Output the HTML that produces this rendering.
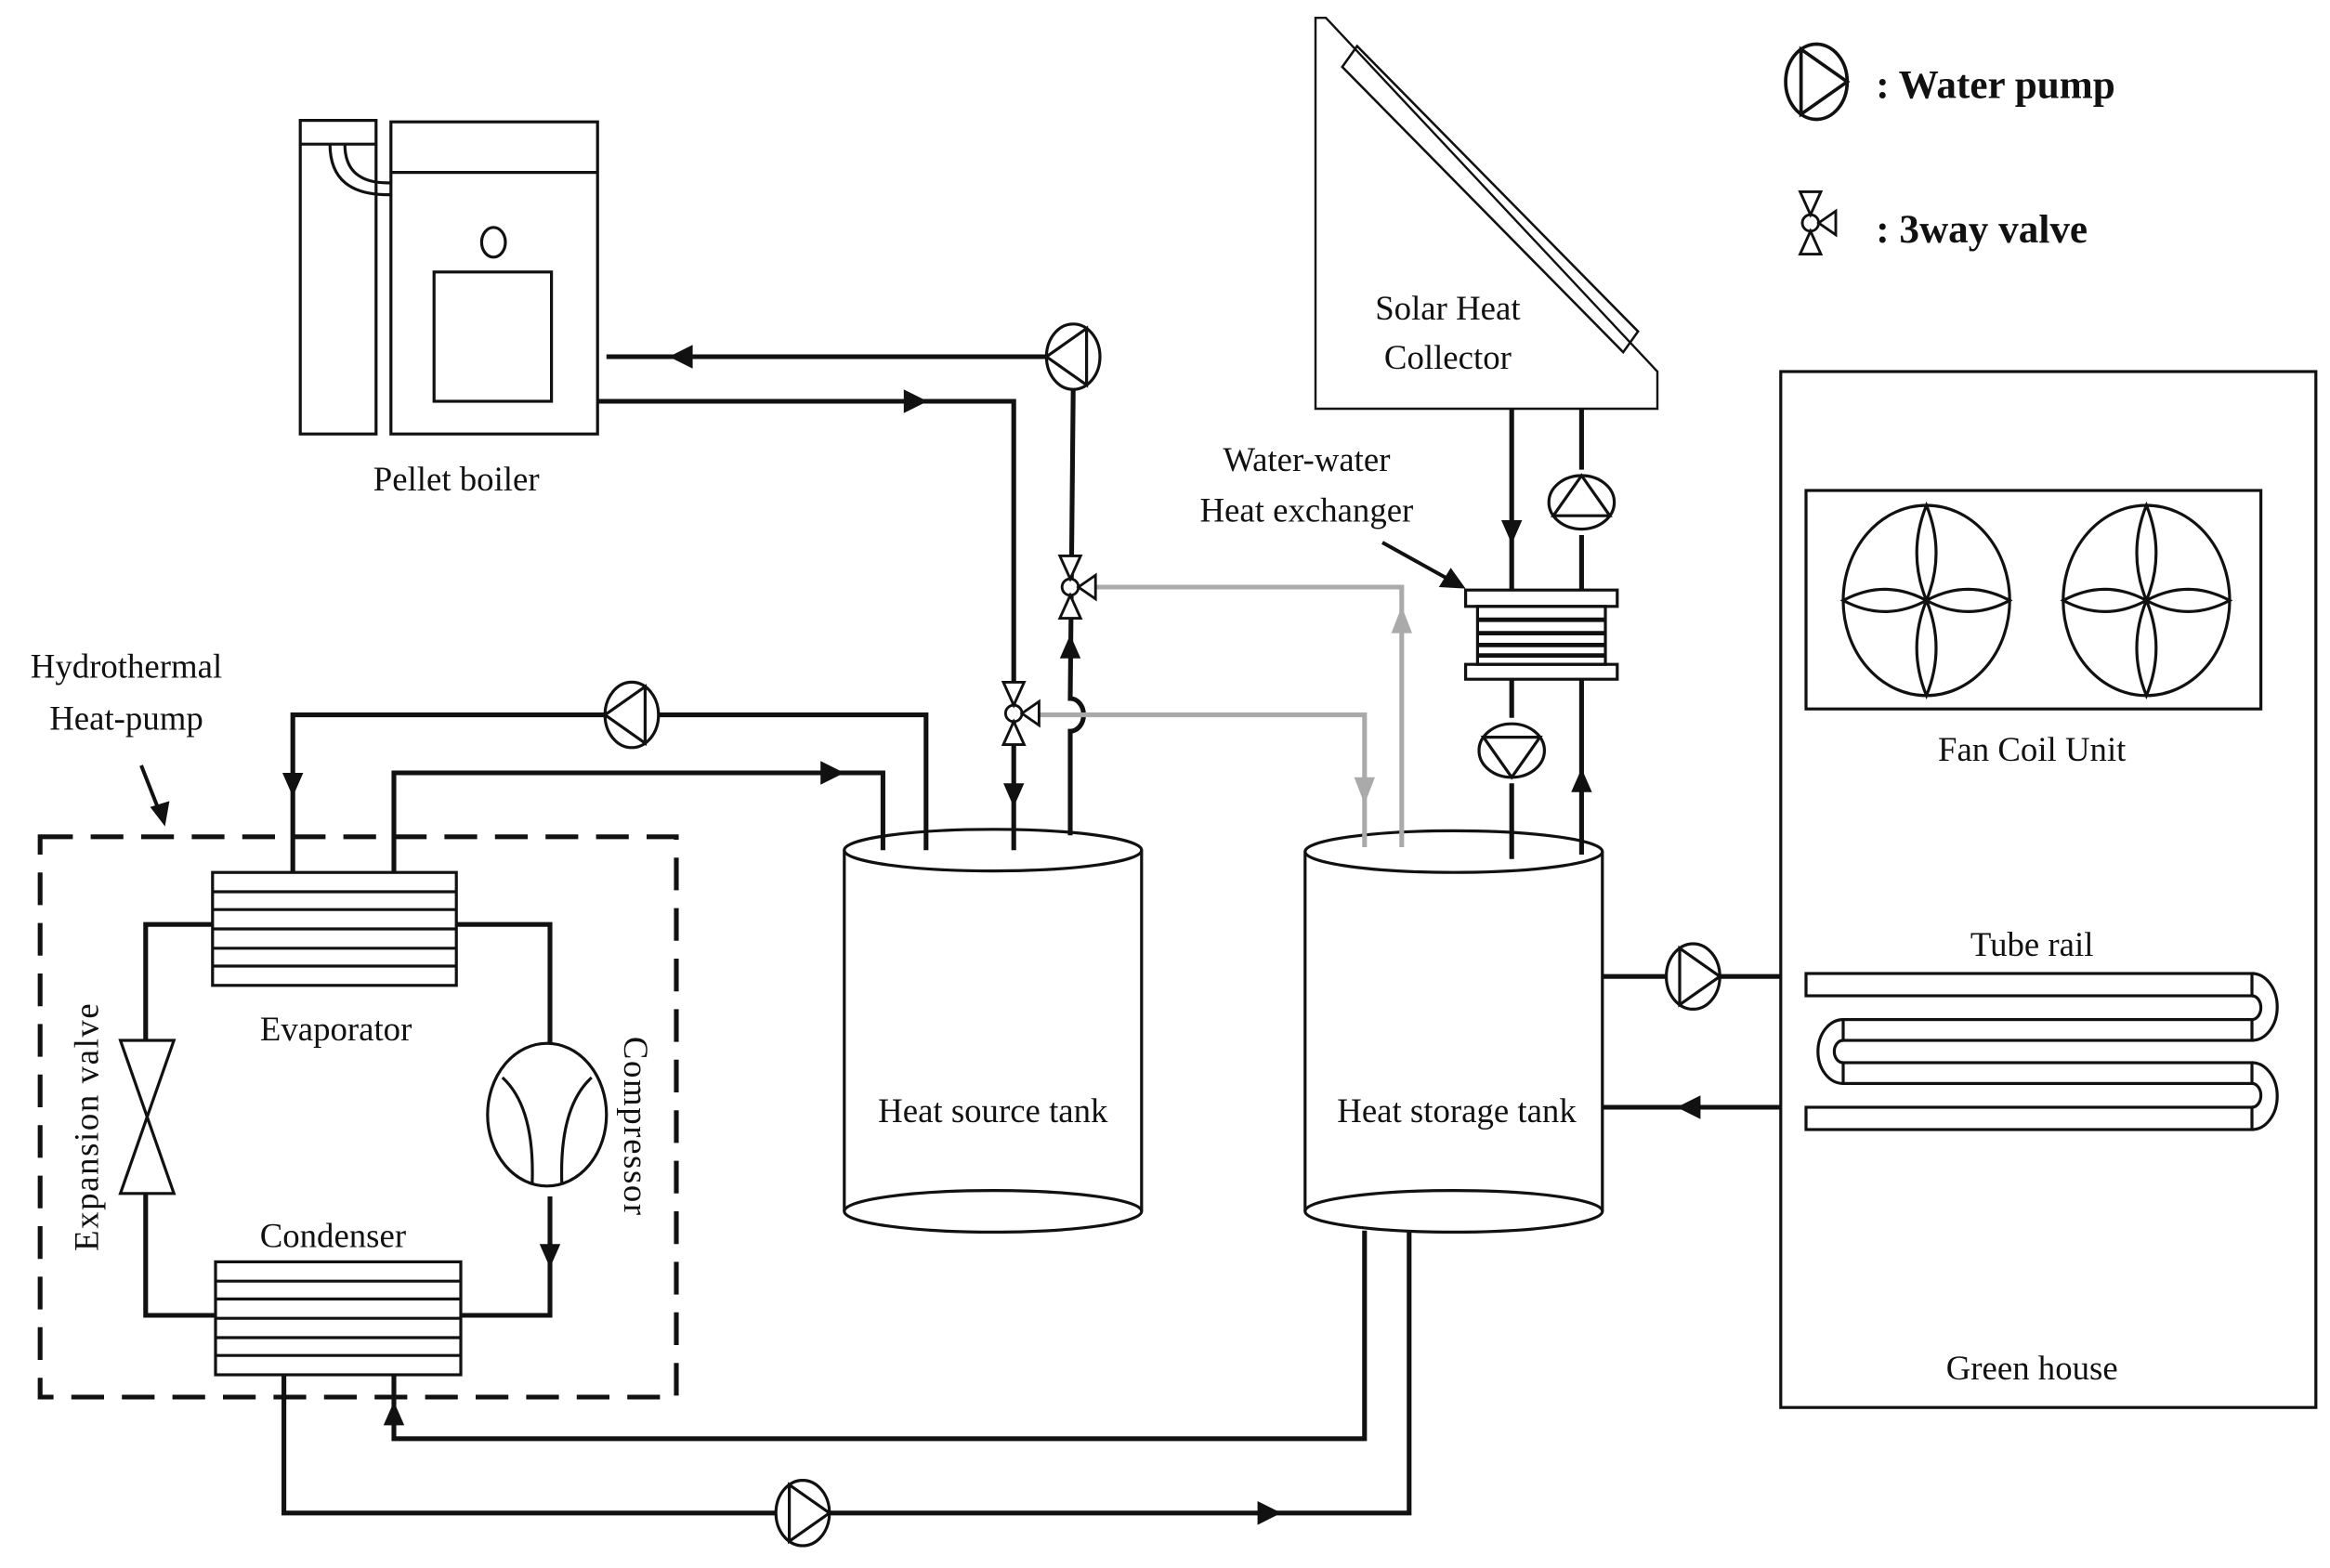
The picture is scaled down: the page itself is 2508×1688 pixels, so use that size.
<!DOCTYPE html>
<html><head><meta charset="utf-8"><style>
html,body{margin:0;padding:0;background:#fff}
svg{display:block}
text{font-family:"Liberation Serif",serif;fill:#111}
</style></head><body>
<svg width="2508" height="1688" viewBox="0 0 1567.5 1055" xmlns="http://www.w3.org/2000/svg">
<defs>
<g id="pump"><ellipse cx="0" cy="0" rx="18" ry="22" fill="#fff" stroke="#111" stroke-width="2"/><path d="M18,0 L-9,-19 L-9,19 Z" fill="none" stroke="#111" stroke-width="2"/></g>
<g id="valve"><circle cx="0" cy="0" r="5.5" fill="#fff" stroke="#111" stroke-width="1.8"/><path d="M-7,-21 L7,-21 L0,-5.5 Z M-7,21 L7,21 L0,5.5 Z M5.5,0 L17,-8 L17,8 Z" fill="#fff" stroke="#111" stroke-width="1.8"/></g>
<g id="fan" fill="none" stroke="#111" stroke-width="2">
<ellipse cx="0" cy="0" rx="56" ry="64"/>
<path d="M0,0 Q13,-32 0,-64 Q-13,-32 0,0 Q13,32 0,64 Q-13,32 0,0 Q28,-15 56,0 Q28,15 0,0 Q-28,-15 -56,0 Q-28,15 0,0"/>
</g>
</defs>
<g fill="none" stroke="#111" stroke-width="2">
<rect x="202" y="81" width="51" height="211"/>
<line x1="202" y1="97" x2="253" y2="97"/>
<rect x="263" y="82" width="139" height="210"/>
<line x1="263" y1="116" x2="402" y2="116"/>
<path d="M222,97 Q222,132 263,131 M232,97 Q232,124 263,123" />
<ellipse cx="332" cy="163" rx="8" ry="10"/>
<rect x="292" y="183" width="79" height="87"/>
<path d="M885,12 L885,275 L1115,275 L1115,250 L892,12 Z" stroke-width="1.5"/>
<path d="M903,45 L913,31 L1102,223 L1092,237 Z" stroke-width="1.6"/>
<rect x="986" y="397" width="102" height="11"/>
<rect x="994" y="408" width="86" height="39"/>
<line x1="994" y1="417" x2="1080" y2="417" stroke-width="3"/>
<line x1="994" y1="426" x2="1080" y2="426" stroke-width="3"/>
<line x1="994" y1="434" x2="1080" y2="434" stroke-width="3"/>
<line x1="994" y1="441" x2="1080" y2="441" stroke-width="3"/>
<rect x="986" y="447" width="102" height="10"/>
<path d="M568,572 L568,815 M768,572 L768,815"/>
<ellipse cx="668" cy="572" rx="100" ry="14"/>
<ellipse cx="668" cy="815" rx="100" ry="14"/>
<path d="M878,573 L878,815 M1078,573 L1078,815"/>
<ellipse cx="978" cy="573" rx="100" ry="14"/>
<ellipse cx="978" cy="815" rx="100" ry="14"/>
<rect x="1198" y="250" width="360" height="697"/>
<rect x="1215" y="330" width="306" height="147"/>
<rect x="1215" y="655" width="300" height="15"/>
<rect x="1240" y="686" width="275" height="14"/>
<rect x="1240" y="715" width="275" height="14"/>
<rect x="1215" y="745" width="300" height="15"/>
<path d="M1515,655 A17,22.5 0 0 1 1515,700 M1515,670 A6,8 0 0 1 1515,686"/>
<path d="M1515,715 A17,22.5 0 0 1 1515,760 M1515,729 A6,8 0 0 1 1515,745"/>
<path d="M1240,686 A17,21.5 0 0 0 1240,729 M1240,700 A6,7.5 0 0 0 1240,715"/>
<rect x="27" y="563" width="428" height="377" stroke-width="3.2" stroke-dasharray="22,12"/>
<rect x="143" y="587" width="164" height="76"/>
<rect x="145" y="849" width="165" height="76"/>
<ellipse cx="368" cy="750" rx="40" ry="48"/>
<path d="M338,725 Q360,745 358,797 M398,725 Q376,745 378,797"/>
<path d="M81,700 L117,700 L81,803 L117,803 Z"/>
</g>
<use href="#fan" transform="translate(1296,404)"/>
<use href="#fan" transform="translate(1444,404)"/>
<g stroke="#111" stroke-width="2">
<line x1="143" y1="600" x2="307" y2="600"/><line x1="143" y1="612" x2="307" y2="612"/><line x1="143" y1="625" x2="307" y2="625"/><line x1="143" y1="638" x2="307" y2="638"/><line x1="143" y1="650" x2="307" y2="650"/>
<line x1="145" y1="862" x2="310" y2="862"/><line x1="145" y1="874" x2="310" y2="874"/><line x1="145" y1="887" x2="310" y2="887"/><line x1="145" y1="900" x2="310" y2="900"/><line x1="145" y1="912" x2="310" y2="912"/>
</g>
<g fill="none" stroke="#111" stroke-width="3.2">
<path d="M408,240 L704,240"/>
<path d="M402,270 L682,270 L682,572"/>
<path d="M722,262 L720,470 A9,11 0 0 1 720,492 L720,562"/>
<path d="M1017,275 L1017,397 M1064,275 L1064,316 M1064,360 L1064,397"/>
<path d="M1017,457 L1017,483 M1017,527 L1017,578 M1064,457 L1064,575"/>
<path d="M1078,657 L1121,657 M1157,657 L1198,657 M1198,745 L1078,745"/>
<path d="M197,587 L197,481 L407,481 M443,481 L623,481 L623,572"/>
<path d="M265,587 L265,520 L594,520 L594,572"/>
<path d="M143,622 L98,622 L98,700 M98,803 L98,885 L145,885"/>
<path d="M307,622 L370,622 L370,702 M370,805 L370,885 L310,885"/>
<path d="M191,925 L191,1018 L522,1018 M558,1018 L948,1018 L948,829"/>
<path d="M265,925 L265,968 L918,968 L918,828"/>
<path d="M95,515 L108,548" stroke-width="2.5"/>
<path d="M930,365 L975,390" stroke-width="2.5"/>
</g>
<g fill="none" stroke="#aaa" stroke-width="3.2">
<path d="M737,395 L943,395 L943,570"/>
<path d="M699,481 L918,481 L918,570"/>
</g>
<g fill="#111">
<polygon points="450,240 466,232 466,248"/>
<polygon points="624,270 608,262 608,278"/>
<polygon points="682,543 675,527 689,527"/>
<polygon points="720,427 713,443 727,443"/>
<polygon points="1017,366 1010,350 1024,350"/>
<polygon points="1064,517 1057,533 1071,533"/>
<polygon points="197,536 190,520 204,520"/>
<polygon points="568,520 552,512 552,528"/>
<polygon points="370,853 363,837 377,837"/>
<polygon points="265,943 258,959 272,959"/>
<polygon points="862,1018 846,1010 846,1026"/>
<polygon points="1128,745 1144,737 1144,753"/>
<polygon points="111,556 101,543 114,539"/>
<polygon points="986,396 968,395 976,382"/>
</g>
<g fill="#aaa">
<polygon points="943,408 936,426 950,426"/>
<polygon points="918,541 911,523 925,523"/>
</g>
<use href="#pump" transform="translate(722,240) rotate(180)"/>
<use href="#pump" transform="translate(425,481) rotate(180)"/>
<use href="#pump" transform="translate(1064,338) rotate(-90)"/>
<use href="#pump" transform="translate(1017,505) rotate(90)"/>
<use href="#pump" transform="translate(1139,657)"/>
<use href="#pump" transform="translate(540,1018)"/>
<use href="#pump" transform="translate(1222,55) scale(1.15)"/>
<use href="#valve" transform="translate(720,395)"/>
<use href="#valve" transform="translate(682,480)"/>
<use href="#valve" transform="translate(1218,150)"/>
<g font-size="23">
<text x="307" y="330" text-anchor="middle">Pellet boiler</text>
<text x="85" y="456" text-anchor="middle">Hydrothermal</text>
<text x="85" y="491" text-anchor="middle">Heat-pump</text>
<text x="974" y="215" text-anchor="middle">Solar Heat</text>
<text x="974" y="248" text-anchor="middle">Collector</text>
<text x="879" y="317" text-anchor="middle">Water-water</text>
<text x="879" y="351" text-anchor="middle">Heat exchanger</text>
<text x="668" y="755" text-anchor="middle">Heat source tank</text>
<text x="980" y="755" text-anchor="middle">Heat storage tank</text>
<text x="1367" y="512" text-anchor="middle">Fan Coil Unit</text>
<text x="1367" y="643" text-anchor="middle">Tube rail</text>
<text x="1367" y="928" text-anchor="middle">Green house</text>
<text x="226" y="700" text-anchor="middle">Evaporator</text>
<text x="224" y="839" text-anchor="middle">Condenser</text>
<text transform="translate(66,758) rotate(-90)" text-anchor="middle" letter-spacing="1">Expansion valve</text>
<text transform="translate(420,758) rotate(90)" text-anchor="middle" letter-spacing="1">Compressor</text>
</g>
<g font-size="27" font-weight="bold">
<text x="1262" y="66">: Water pump</text>
<text x="1262" y="163">: 3way valve</text>
</g>
</svg>
</body></html>
